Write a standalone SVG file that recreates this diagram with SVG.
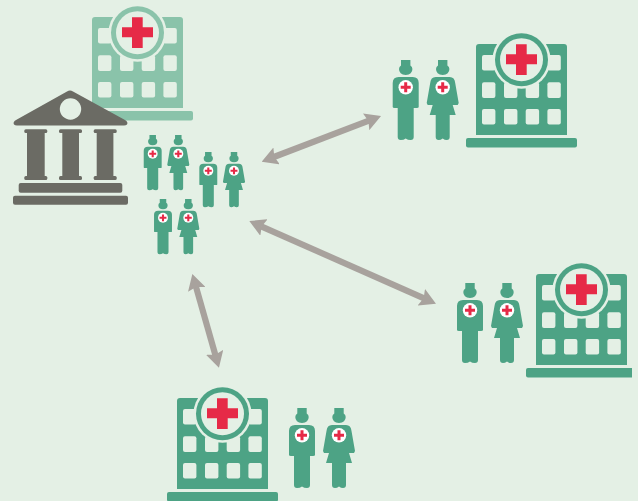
<svg xmlns="http://www.w3.org/2000/svg" width="638" height="501" viewBox="0 0 638 501">
<style>
.bg{fill:#e4f0e5}
.bank{fill:#6b6b64}
.red{fill:#e62a47}
.wh{fill:#fff}
.win rect{fill:#e4f0e5;width:13.400px;height:15.600px;rx:2px}
.conn line{stroke:#a8a29d;stroke-width:6.200;marker-start:url(#head);marker-end:url(#head)}
#head path{fill:#a8a29d}
</style>
<defs>
<marker id="head" viewBox="0 0 16 18" refX="3" refY="9" markerWidth="16" markerHeight="18" markerUnits="userSpaceOnUse" orient="auto-start-reverse"><path d="M0 0L16 9L0 18L2.500 9Z"/></marker>
<clipPath id="crop"><rect x="0" y="0" width="632" height="501"/></clipPath>
<g id="hospital">
<path fill="currentColor" d="M3 0H88Q91 0 91 3V91H0V3Q0 0 3 0Z"/>
<g class="win">
<rect x="6" y="11"/><rect x="28" y="11"/><rect x="49.700" y="11"/><rect x="71.400" y="11"/>
<rect x="6" y="38.300"/><rect x="28" y="38.300"/><rect x="49.700" y="38.300"/><rect x="71.400" y="38.300"/>
<rect x="6" y="65"/><rect x="28" y="65"/><rect x="49.700" y="65"/><rect x="71.400" y="65"/>
</g>
<rect x="-10" y="94" width="111" height="9.500" rx="2" fill="currentColor"/>
<circle class="bg" cx="45.500" cy="15.700" r="29"/>
<circle cx="45.500" cy="15.700" r="26.500" fill="currentColor"/>
<circle class="bg" cx="45.500" cy="15.700" r="21.500"/>
<path class="red" d="M40 0.300H50.700V10.300H61V20.300H50.700V31H40V20.300H30V10.300H40Z"/>
</g>
<g id="badge">
<circle class="wh" r="7.200"/>
<path class="red" d="M-1.500-5H1.500V-1.500H5V1.500H1.500V5H-1.500V1.500H-5V-1.500H-1.500Z"/>
</g>
<g id="male" fill="currentColor">
<path d="M-4.700 0H4.700V5.500Q6.700 6.800 6.700 9Q6.700 14.500 0 15Q-6.700 14.500-6.700 9Q-6.700 6.800-4.700 5.500Z"/>
<path d="M-7 17H7Q13 17 13 23V47Q13 48 11 48H8V77Q8 80 5 80Q2 80 0 78.500Q-2 80-5 80Q-8 80-8 77V48H-11Q-13 48-13 47V23Q-13 17-7 17Z"/>
<use href="#badge" y="27.300"/>
</g>
<g id="female" fill="currentColor">
<path d="M-4.700 0H4.700V5.500Q6.700 6.800 6.700 9Q6.700 14.500 0 15Q-6.700 14.500-6.700 9Q-6.700 6.800-4.700 5.500Z"/>
<path d="M-7 17H7Q12 17 12.500 23L16 43L15 45H10L13 55H7V77Q7 80 4 80Q2 80 0 78.500Q-2 80-4 80Q-7 80-7 77V55H-13L-10 45H-15L-16 43L-12.500 23Q-12 17-7 17Z"/>
<use href="#badge" y="27.300"/>
</g>
</defs>
<rect class="bg" width="638" height="501"/>
<g id="hospital-source" color="#8ac3aa"><use href="#hospital" x="92" y="17"/></g>
<g id="bank" class="bank">
<path d="M67 91.500Q70 89.500 73 91.500L125 120Q128.500 122 127 124.500Q126 125.500 124 125.500H17Q15 125.500 14 124.500Q12.500 122 16 120Z"/>
<circle class="bg" cx="70.500" cy="109" r="10.700"/>
<rect x="24.300" y="129.300" width="23" height="3.700" rx="1.500"/><rect x="27" y="131" width="17.700" height="47"/><rect x="24.300" y="176" width="23" height="4" rx="1.500"/>
<rect x="59" y="129.300" width="23" height="3.700" rx="1.500"/><rect x="62.300" y="131" width="16.700" height="47"/><rect x="59" y="176" width="23" height="4" rx="1.500"/>
<rect x="93.700" y="129.300" width="23" height="3.700" rx="1.500"/><rect x="96.700" y="131" width="16.700" height="47"/><rect x="93.700" y="176" width="23" height="4" rx="1.500"/>
<rect x="18.700" y="183" width="103.600" height="9.700" rx="2"/>
<rect x="13" y="195.700" width="115" height="9" rx="2"/>
</g>
<g id="staff-center" color="#4da385">
<use href="#male" transform="translate(152.700 135) scale(.69)"/>
<use href="#female" transform="translate(178.300 135) scale(.69)"/>
<use href="#male" transform="translate(208.300 152) scale(.69)"/>
<use href="#female" transform="translate(234 152) scale(.69)"/>
<use href="#male" transform="translate(163 199) scale(.69)"/>
<use href="#female" transform="translate(188.300 199) scale(.69)"/>
</g>
<g id="site-top-right" color="#4da385">
<use href="#male" x="405.700" y="60"/><use href="#female" x="442.700" y="60"/>
<use href="#hospital" x="476" y="44"/>
</g>
<g id="site-right" color="#4da385" clip-path="url(#crop)">
<use href="#male" x="470" y="283"/><use href="#female" x="507" y="283"/>
<use href="#hospital" x="536" y="274"/>
</g>
<g id="site-bottom" color="#4da385">
<use href="#hospital" x="177" y="398"/>
<use href="#male" x="302" y="408"/><use href="#female" x="339" y="408"/>
</g>
<g id="connectors" class="conn">
<line x1="273.800" y1="157" x2="368.900" y2="120.700"/>
<line x1="261.200" y1="226.300" x2="424.100" y2="298.400"/>
<line x1="195.900" y1="286.500" x2="215.400" y2="355.200"/>
</g>
</svg>
